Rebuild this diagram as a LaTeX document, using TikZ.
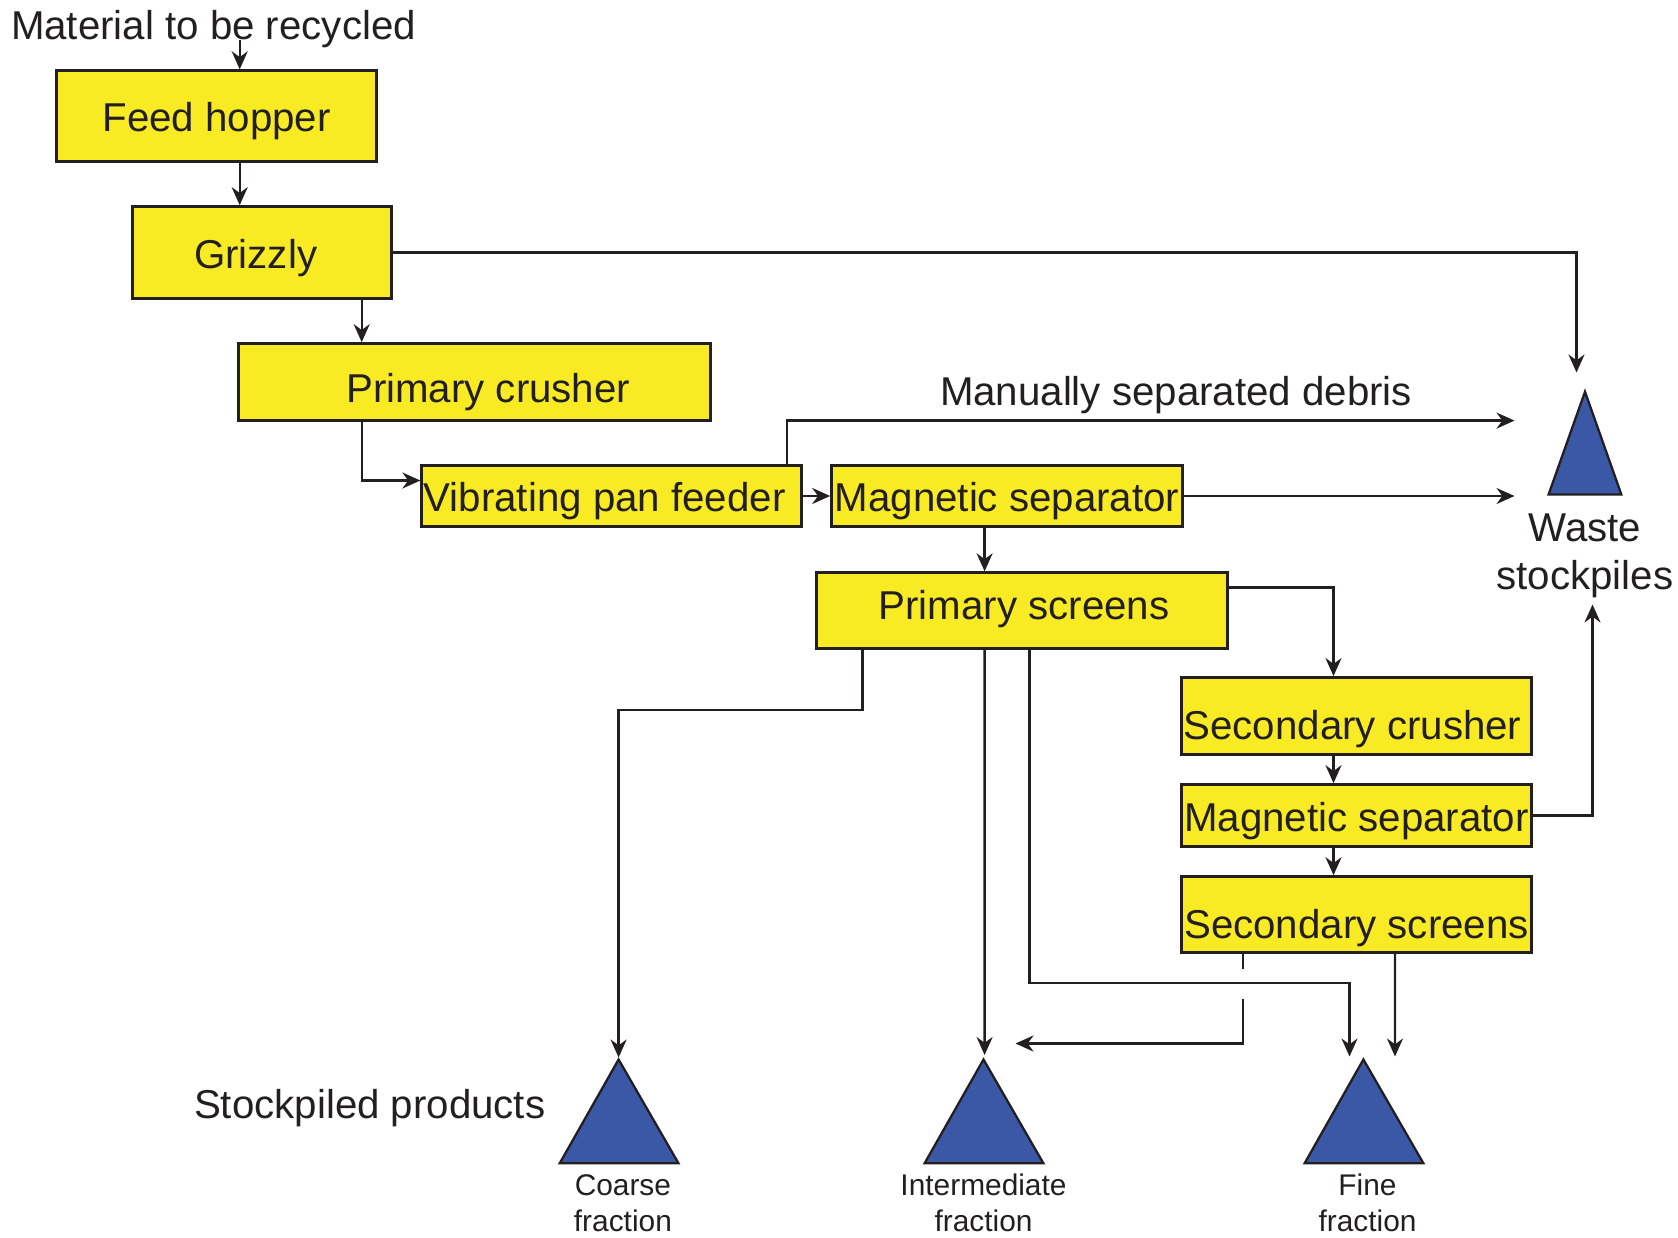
\documentclass[tikz,border=0pt]{standalone}
\usepackage{fontspec}
\setmainfont{Liberation Sans}
\usetikzlibrary{arrows.meta,positioning,calc}
\definecolor{FlowYellow}{HTML}{F8EB24}
\definecolor{FlowBlue}{HTML}{3B58A6}
\definecolor{FlowInk}{HTML}{231F20}
\newcommand{\bigtxt}{\fontsize{22.9}{27.5}\selectfont}
\newcommand{\smalltxt}{\fontsize{17}{20.6}\selectfont}

\begin{document}
\begin{tikzpicture}[
    box/.style={draw=FlowInk,fill=FlowYellow,line width=1.5pt,inner sep=0pt,font=\bigtxt,text=FlowInk,text depth=0pt},
    drop/.style={text height=#1},
    arr/.style={-{Stealth[length=3.6mm,width=3.2mm]},line width=1.3pt,draw=FlowInk},
    pile/.style={draw=FlowInk,fill=FlowBlue,line width=1.3pt},
    lbl/.style={font=\bigtxt,text=FlowInk,inner sep=0pt},
    sublbl/.style={font=\smalltxt,text=FlowInk,align=center,inner sep=0pt}
  ]
    \useasboundingbox (0,0) rectangle (33.56,-24.76);
    % process boxes
    \node[lbl,anchor=base west] (mat) at (0.214,-0.792) {Material to be recycled};
    \node[box,drop=6.2mm,minimum width=6.4cm,minimum height=1.82cm] (hop) at (4.334,-2.322) {Feed hopper};
    \node[box,drop=6.2mm,minimum width=5.18cm,minimum height=1.842cm] (griz) at (5.244,-5.051) {Grizzly\hspace*{2.6mm}};
    \node[box,drop=8mm,minimum width=9.438cm,minimum height=1.542cm] (pcr) at (9.493,-7.641) {\hspace*{5.4mm}Primary crusher};
    \node[box,drop=6mm,minimum width=7.598cm,minimum height=1.22cm] (vpf) at (12.233,-9.92) {Vibrating pan feeder\hspace*{2.8mm}};
    \node[box,drop=6mm,minimum width=7.022cm,minimum height=1.22cm] (ms1) at (20.141,-9.92) {Magnetic separator};
    \node[box,drop=3.4mm,minimum width=8.218cm,minimum height=1.518cm] (ps) at (20.441,-12.211) {\hspace*{0.8mm}Primary screens};
    \node[box,drop=9.4mm,minimum width=7cm,minimum height=1.542cm] (scr) at (27.13,-14.319) {Secondary crusher\hspace*{1.6mm}};
    \node[box,drop=6.2mm,minimum width=7cm,minimum height=1.24cm] (ms2) at (27.13,-16.31) {Magnetic separator};
    \node[box,drop=9.4mm,minimum width=7cm,minimum height=1.52cm] (ss) at (27.13,-18.29) {Secondary screens};
    % stockpiles
    \filldraw[pile] (31.7,-7.834) -- (32.426,-9.888) -- (30.972,-9.888) -- cycle;
    \filldraw[pile] (12.372,-21.19) -- (13.57,-23.266) -- (11.194,-23.266) -- cycle;
    \filldraw[pile] (19.67,-21.19) -- (20.868,-23.266) -- (18.492,-23.266) -- cycle;
    \filldraw[pile] (27.268,-21.19) -- (28.468,-23.266) -- (26.092,-23.266) -- cycle;
    \node[lbl,align=center] (waste) at (31.7,-11.12) {Waste\\stockpiles};
    \node[lbl,anchor=base] (debris) at (23.52,-8.11) {Manually separated debris};
    \node[lbl,anchor=base] (prod) at (7.395,-22.37) {Stockpiled products};
    \node[sublbl] (coarse) at (12.458,-24.06) {Coarse\\fraction};
    \node[sublbl] (inter) at (19.67,-24.06) {Intermediate\\fraction};
    \node[sublbl] (fine) at (27.35,-24.06) {Fine\\fraction};
    % arrow ends
    \coordinate (wtop) at (31.53,-7.45);
    \coordinate (wdeb) at (30.29,-8.412);
    \coordinate (wmid) at (30.29,-9.92);
    \coordinate (wbot) at (31.85,-12.09);
    \coordinate (ctop) at (12.372,-21.15);
    \coordinate (itop) at (19.692,-21.1);
    \coordinate (ileft) at (20.31,-20.87);
    \coordinate (ftop) at (26.99,-21.13);
    \coordinate (ftopb) at (27.9,-21.13);
    % flows
    \draw[arr] ([xshift=4.6mm]hop.north |- mat.base) -- ([xshift=4.6mm]hop.north);
    \draw[arr] ([xshift=4.6mm]hop.south) -- ([xshift=4.6mm]hop.south |- griz.north);
    \draw[arr] (griz.east) -| (wtop);
    \draw[arr] ([xshift=1.99cm]griz.south) -- ([xshift=1.99cm]griz.south |- pcr.north);
    \draw[arr] ([xshift=-2.259cm]pcr.south) |- ([yshift=3.1mm]vpf.west);
    \draw[arr] ([xshift=3.5cm]vpf.north) |- (wdeb);
    \draw[arr] (vpf) -- (ms1);
    \draw[arr] (ms1) -- (wmid);
    \draw[arr] ([xshift=-4.49mm]ms1.south) -- ([xshift=-4.49mm]ms1.south |- ps.north);
    \draw[arr] ([yshift=4.6mm]ps.east) -| ([xshift=-4.6mm]scr.north);
    \draw[arr] ([xshift=-4.6mm]scr.south) -- ([xshift=-4.6mm]ms2.north);
    \draw[arr] ([xshift=-4.6mm]ms2.south) -- ([xshift=-4.6mm]ss.north);
    \draw[arr] (ms2.east) -| (wbot);
    \draw[arr] ([xshift=-3.19cm]ps.south) -- ++(0,-1.2) -| (ctop);
    \draw[arr] ([xshift=-7.49mm]ps.south) -- (itop);
    \draw[arr] ([xshift=1.5mm]ps.south) -- ++(0,-6.67) -| (ftop);
    \draw[line width=1.3pt,FlowInk] ([xshift=-2.276cm]ss.south) -- ++(0,-0.3);
    \draw[arr] ([xshift=-2.276cm,yshift=-9mm]ss.south) |- (ileft);
    \draw[arr] ([xshift=7.7mm]ss.south) -- (ftopb);
  \end{tikzpicture}
\end{document}
